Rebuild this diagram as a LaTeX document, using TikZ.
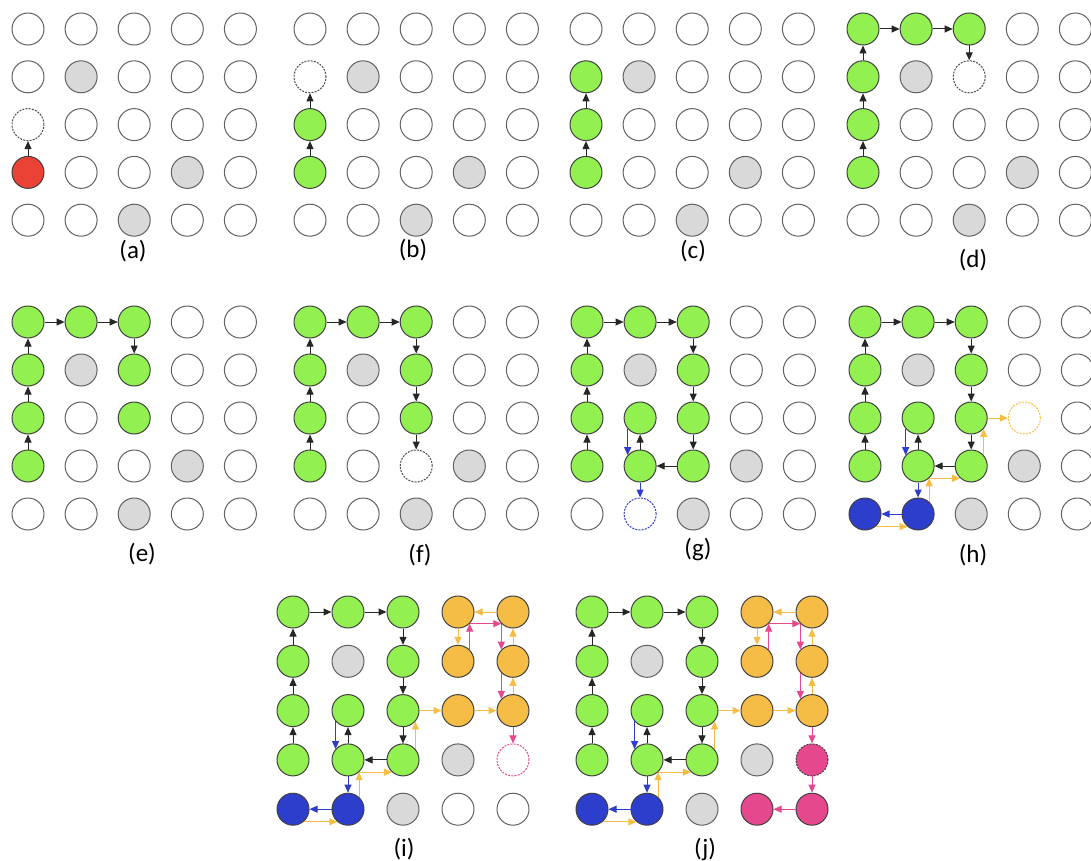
\documentclass[tikz,border=0pt]{standalone}
\usepackage{fontspec}
\setmainfont{Carlito}
\usetikzlibrary{arrows.meta}

\definecolor{cellgreen}{HTML}{92F050}
\definecolor{cellred}{HTML}{EA4335}
\definecolor{cellgray}{HTML}{D9D9D9}
\definecolor{cellblue}{HTML}{2D3DCC}
\definecolor{cellorange}{HTML}{F5BD45}
\definecolor{cellpink}{HTML}{E6488E}

\tikzset{
  cell/.style={circle, draw=black!62, line width=1pt, minimum size=32pt, inner sep=0pt},
  cE/.style={fill=white},
  cO/.style={fill=cellgray},
  cR/.style={fill=cellred, draw=black!75},
  cG/.style={fill=cellgreen, draw=black!75},
  cB/.style={fill=cellblue, draw=black!75},
  cY/.style={fill=cellorange, draw=black!75},
  cM/.style={fill=cellpink, draw=black!75},
  fM/.style={fill=cellpink, draw=black!75, dash pattern=on 2pt off 1.2pt},
  dK/.style={draw=black!70, dash pattern=on 2pt off 1.2pt},
  dB/.style={draw=cellblue, dash pattern=on 2pt off 1.2pt},
  dY/.style={draw=cellorange, dash pattern=on 2pt off 1.2pt},
  dM/.style={draw=cellpink, dash pattern=on 2pt off 1.2pt},
  lnk/.style={-{Triangle[length=8pt,width=7pt]}, line width=1pt},
  blk/.style={lnk, black!85},
  blu/.style={lnk, cellblue},
  org/.style={lnk, cellorange},
  pnk/.style={lnk, cellpink},
  tag/.style={font=\fontsize{25}{29}\selectfont, inner sep=0pt}
}

% #1 name, #2 x of first column, #3 y of first row, #4 dx, #5 dy, #6 25 cell styles
\newcommand\gridpanel[6]{%
  \foreach \st [count=\k from 0] in {#6} {
    \pgfmathtruncatemacro\rr{int(\k/5)+1}
    \pgfmathtruncatemacro\cc{mod(\k,5)+1}
    \node[cell,\st] (#1-\rr-\cc) at ({#2+(\cc-1)*#4},{#3+(\rr-1)*#5}) {};
  }
}

\begin{document}
\begin{tikzpicture}[x=1pt,y=-1pt]
\useasboundingbox (0,0) rectangle (1091,861);

% top row
\gridpanel{a}{28}{29}{53.1}{47.8}{cE,cE,cE,cE,cE, cE,cO,cE,cE,cE, dK,cE,cE,cE,cE, cR,cE,cE,cO,cE, cE,cE,cO,cE,cE}
\gridpanel{b}{310}{29}{53.1}{47.8}{cE,cE,cE,cE,cE, dK,cO,cE,cE,cE, cG,cE,cE,cE,cE, cG,cE,cE,cO,cE, cE,cE,cO,cE,cE}
\gridpanel{c}{586}{29}{53.1}{47.8}{cE,cE,cE,cE,cE, cG,cO,cE,cE,cE, cG,cE,cE,cE,cE, cG,cE,cE,cO,cE, cE,cE,cO,cE,cE}
\gridpanel{d}{863}{29}{53.1}{47.8}{cG,cG,cG,cE,cE, cG,cO,dK,cE,cE, cG,cE,cE,cE,cE, cG,cE,cE,cO,cE, cE,cE,cO,cE,cE}

% middle row
\gridpanel{e}{28}{322}{53.1}{48}{cG,cG,cG,cE,cE, cG,cO,cG,cE,cE, cG,cE,cG,cE,cE, cG,cE,cE,cO,cE, cE,cE,cO,cE,cE}
\gridpanel{f}{310}{322}{53.1}{48}{cG,cG,cG,cE,cE, cG,cO,cG,cE,cE, cG,cE,cG,cE,cE, cG,cE,dK,cO,cE, cE,cE,cO,cE,cE}
\gridpanel{g}{587}{322}{53.1}{48}{cG,cG,cG,cE,cE, cG,cO,cG,cE,cE, cG,cG,cG,cE,cE, cG,cG,cG,cO,cE, cE,dB,cO,cE,cE}
\gridpanel{h}{865}{322}{53.1}{48}{cG,cG,cG,cE,cE, cG,cO,cG,cE,cE, cG,cG,cG,dY,cE, cG,cG,cG,cO,cE, cB,cB,cO,cE,cE}

% bottom row
\gridpanel{i}{293}{612}{55}{49.3}{cG,cG,cG,cY,cY, cG,cO,cG,cY,cY, cG,cG,cG,cY,cY, cG,cG,cG,cO,dM, cB,cB,cO,cE,cE}
\gridpanel{j}{592}{612}{55}{49.3}{cG,cG,cG,cY,cY, cG,cO,cG,cY,cY, cG,cG,cG,cY,cY, cG,cG,cG,cO,fM, cB,cB,cO,cM,cM}

% captions
\node[tag] (la) at (133,251) {(a)};
\node[tag] (lb) at (413,250) {(b)};
\node[tag] (lc) at (693,251) {(c)};
\node[tag] (ld) at (973,260) {(d)};
\node[tag] (le) at (142,554) {(e)};
\node[tag] (lf) at (420,555) {(f)};
\node[tag] (lg) at (698,549) {(g)};
\node[tag] (lh) at (973,555) {(h)};
\node[tag] (li) at (404,849) {(i)};
\node[tag] (lj) at (705,849) {(j)};

% black walk
\foreach \p in {a,b,c,d,e,f,g,h,i,j} \draw[blk] (\p-4-1) -- (\p-3-1);
\foreach \p in {b,c,d,e,f,g,h,i,j} \draw[blk] (\p-3-1) -- (\p-2-1);
\foreach \p in {d,e,f,g,h,i,j} {
  \draw[blk] (\p-2-1) -- (\p-1-1);
  \draw[blk] (\p-1-1) -- (\p-1-2);
  \draw[blk] (\p-1-2) -- (\p-1-3);
  \draw[blk] (\p-1-3) -- (\p-2-3);
}
\foreach \p in {f,g,h,i,j} {
  \draw[blk] (\p-2-3) -- (\p-3-3);
  \draw[blk] (\p-3-3) -- (\p-4-3);
}
% blue walk
\foreach \p in {g,h,i,j} {
  \draw[blk] (\p-4-3) -- (\p-4-2);
  \draw[blk] (\p-4-2) -- (\p-3-2);
  \draw[blu] (\p-3-2.221) -- (\p-4-2.139);
  \draw[blu] (\p-4-2) -- (\p-5-2);
}
% orange walk
\foreach \p in {h,i,j} {
  \draw[blu] (\p-5-2) -- (\p-5-1);
  \draw[org] (\p-5-1.310) -- (\p-5-2.230);
  \draw[org] (\p-5-2.48) -- (\p-4-2.312);
  \draw[org] (\p-4-2.312) -- (\p-4-3.228);
  \draw[org] (\p-4-3.41) -- (\p-3-3.319);
  \draw[org] (\p-3-3) -- (\p-3-4);
}
% pink walk
\foreach \p in {i,j} {
  \draw[org] (\p-3-4) -- (\p-3-5);
  \draw[org] (\p-3-5) -- (\p-2-5);
  \draw[org] (\p-2-5) -- (\p-1-5);
  \draw[org] (\p-1-5) -- (\p-1-4);
  \draw[org] (\p-1-4) -- (\p-2-4);
  \draw[pnk] (\p-2-4.45) -- (\p-1-4.315);
  \draw[pnk] (\p-1-4.315) -- (\p-1-5.225);
  \draw[pnk] (\p-1-5.225) -- (\p-2-5.135);
  \draw[pnk] (\p-2-5.225) -- (\p-3-5.135);
  \draw[pnk] (\p-3-5) -- (\p-4-5);
}
\draw[pnk] (j-4-5) -- (j-5-5);
\draw[pnk] (j-5-5) -- (j-5-4);
\end{tikzpicture}
\end{document}
